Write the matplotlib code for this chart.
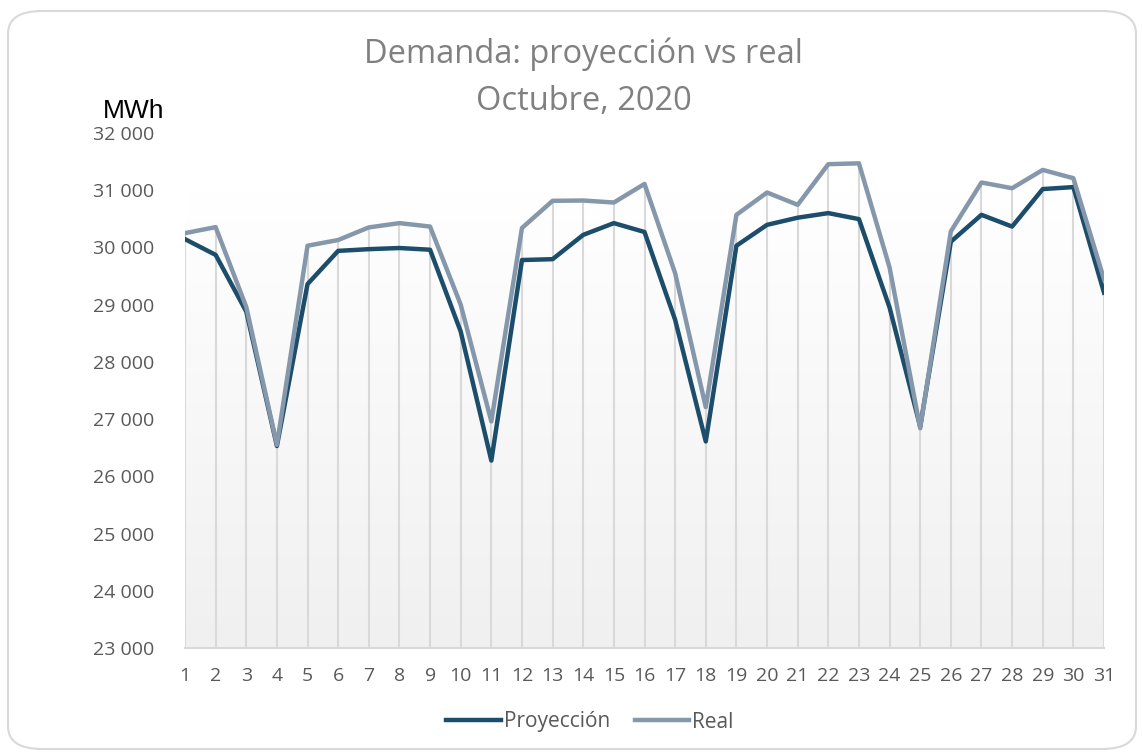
import numpy as np
import matplotlib
matplotlib.use("Agg")
from matplotlib import pyplot as plt
from matplotlib.patches import FancyBboxPatch
from matplotlib.ticker import FuncFormatter

plt.rcParams['font.family'] = ['Open Sans', 'DejaVu Sans']

dias = list(range(1, 32))
proyeccion = [30145, 29870, 28880, 26530, 29360, 29940, 29970, 29990, 29960, 28530,
              26275, 29780, 29795, 30220, 30425, 30270, 28735, 26610, 30030, 30395,
              30520, 30600, 30495, 28950, 26870, 30100, 30570, 30365, 31020, 31055,
              29210]
real = [30250, 30355, 28960, 26550, 30030, 30130, 30350, 30425, 30365, 29000,
        26960, 30340, 30815, 30820, 30785, 31110, 29550, 27210, 30570, 30960,
        30745, 31455, 31470, 29650, 26840, 30280, 31135, 31035, 31355, 31210,
        29445]

c_proy = '#1c4d6b'
c_real = '#8597aa'
c_txt = '#595959'

fig = plt.figure(figsize=(11.42, 7.53), dpi=100)

# rounded frame of the chart
frame = FancyBboxPatch((8 / 1142, 4 / 753), 1128 / 1142, 738 / 753,
                       boxstyle="round,pad=0,rounding_size=0.03",
                       transform=fig.transFigure, facecolor='white',
                       edgecolor='#d9d9d9', linewidth=1.5, zorder=-10)
fig.patches.append(frame)

ax = fig.add_axes([185 / 1142, 1 - 648 / 753, (1104 - 185) / 1142, (648 - 133) / 753])
ax.patch.set_alpha(0)

# soft gradient behind the lines
grad = np.linspace(0, 1, 256).reshape(-1, 1)
cmap = matplotlib.colors.LinearSegmentedColormap.from_list('g', ['#f0f0f0', '#ffffff'])
ax.imshow(grad, extent=[1, 31, 23000, 31000], origin='lower', aspect='auto',
          cmap=cmap, zorder=0)

# drop lines
tope = np.maximum(proyeccion, real)
ax.vlines(dias, 23000, tope, color='#d9d9d9', linewidth=1.5, zorder=1)

ax.plot(dias, proyeccion, color=c_proy, linewidth=3.2, label='Proyección', zorder=3,
        solid_joinstyle='round')
ax.plot(dias, real, color=c_real, linewidth=3.2, label='Real', zorder=4,
        solid_joinstyle='round')

ax.set_xlim(1, 31)
ax.set_ylim(23000, 32000)
ax.set_xticks(dias)
ax.set_yticks(range(23000, 32001, 1000))
ax.yaxis.set_major_formatter(FuncFormatter(lambda v, p: f"{v:,.0f}".replace(",", " ")))
ax.tick_params(axis='both', length=0, labelsize=14, labelcolor=c_txt)
ax.tick_params(axis='y', pad=22)
ax.tick_params(axis='x', pad=14)
for s in ['left', 'right', 'top']:
    ax.spines[s].set_visible(False)
ax.spines['bottom'].set_color('#d9d9d9')
ax.spines['bottom'].set_linewidth(1.5)

fig.text(0.511, 1 - 54 / 753, 'Demanda: proyección vs real', ha='center', va='center',
         fontsize=23.5, color='#808080')
fig.text(0.511, 1 - 101 / 753, 'Octubre, 2020', ha='center', va='center',
         fontsize=23.5, color='#808080')
fig.text(103 / 1142, 1 - 118 / 753, 'MWh', ha='left', va='baseline',
         fontsize=19, color='black', family='Liberation Sans')

ax.legend(loc='center', bbox_to_anchor=(590 / 1142, 1 - 722 / 753),
          bbox_transform=fig.transFigure, ncol=2, frameon=False, fontsize=15,
          labelcolor=c_txt, handlelength=2.6, handletextpad=0.15, columnspacing=1.2)

fig.savefig('out.png', dpi=100)
